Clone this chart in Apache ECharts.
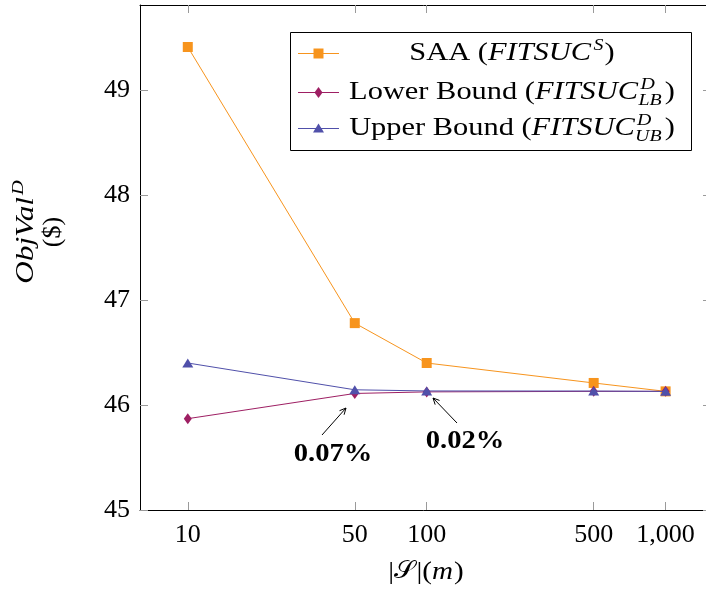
<!DOCTYPE html>
<html>
<head>
<meta charset="utf-8">
<script src="https://cdn.jsdelivr.net/npm/echarts@6/dist/echarts.min.js"></script>
<style>
  html, body { margin: 0; padding: 0; background: #ffffff; }
  #chart { width: 706px; height: 591px; }
</style>
</head>
<body>
<div id="chart"></div>
<script>
// Sample sizes |S| (m) and objective values in $
const sampleSizes = [10, 50, 100, 500, 1000];
const saaValues = [49.41, 46.78, 46.40, 46.21, 46.13];
const lowerBoundValues = [45.87, 46.11, 46.125, 46.13, 46.13];
const upperBoundValues = [46.40, 46.145, 46.134, 46.133, 46.13];

const xTicks = [10, 50, 100, 500, 1000];
const yTicks = [45, 46, 47, 48, 49];
const seriesNames = ['SAA', 'Lower Bound', 'Upper Bound'];
const gapLabels = ['0.07%', '0.02%'];

const SERIF = '"Liberation Serif", "DejaVu Serif", serif';
const COLORS = ['#F7941D', '#9E1F63', '#5050AA'];
const TICK_COLOR = '#9a9a9a';

const chart = echarts.init(document.getElementById('chart'), null, { renderer: 'canvas' });

function thousands(v) {
  return String(Math.round(v)).replace(/\B(?=(\d{3})+(?!\d))/g, ',');
}

const xMin = Math.pow(10, 0.8);
const xMax = Math.pow(10, 3.19);

function xAxisBase(pos, showLabels) {
  return {
    type: 'log',
    logBase: 10,
    position: pos,
    min: xMin,
    max: xMax,
    axisLine: { show: true, onZero: false, lineStyle: { color: '#000', width: 1 } },
    axisTick: { show: true, inside: true, length: 8, customValues: xTicks, lineStyle: { color: TICK_COLOR, width: 1 } },
    axisLabel: {
      show: showLabels, customValues: xTicks, formatter: thousands,
      fontFamily: SERIF, fontSize: 26, color: '#000', margin: 12
    },
    splitLine: { show: false },
    minorTick: { show: false }
  };
}

function yAxisBase(pos, showLabels) {
  return {
    type: 'value',
    position: pos,
    min: 45,
    max: 49.81,
    axisLine: { show: true, onZero: false, lineStyle: { color: '#000', width: 1 } },
    axisTick: { show: true, inside: true, length: 8, customValues: yTicks, lineStyle: { color: TICK_COLOR, width: 1 } },
    axisLabel: {
      show: showLabels, customValues: yTicks,
      fontFamily: SERIF, fontSize: 26, color: '#000', margin: 10
    },
    splitLine: { show: false }
  };
}

function toPairs(values) {
  return sampleSizes.map((m, i) => [m, values[i]]);
}

const symbolDefs = [
  { symbol: 'rect', size: 10 },
  { symbol: 'diamond', size: [8, 11] },
  { symbol: 'triangle', size: [11, 9] }
];
const seriesData = [saaValues, lowerBoundValues, upperBoundValues];

const series = seriesNames.map((name, k) => ({
  name: name,
  type: 'line',
  xAxisIndex: 0,
  yAxisIndex: 0,
  data: toPairs(seriesData[k]),
  symbol: symbolDefs[k].symbol,
  symbolSize: symbolDefs[k].size,
  showAllSymbol: true,
  lineStyle: { color: COLORS[k], width: 1 },
  itemStyle: { color: COLORS[k], borderWidth: 0 },
  emphasis: { disabled: true },
  animation: false,
  z: 2 + k
}));

// the plot frame runs a few pixels past the right edge of the canvas
chart.setOption({
  animation: false,
  backgroundColor: '#ffffff',
  grid: { left: 140, top: 5, width: 571, height: 505, containLabel: false, outerBoundsMode: 'none' },
  xAxis: [xAxisBase('bottom', true), xAxisBase('top', false)],
  yAxis: [yAxisBase('left', true), yAxisBase('right', false)],
  series: series
});

// ---- legend, axis titles and annotations drawn as graphic elements ----
const measureCtx = document.createElement('canvas').getContext('2d');
function fontOf(size, italic, bold, family) {
  return (italic ? 'italic ' : '') + (bold ? 'bold ' : '') + size + 'px ' + (family || SERIF);
}
function textWidth(str, size, italic, bold, family) {
  measureCtx.font = fontOf(size, italic, bold, family);
  return measureCtx.measureText(str).width;
}

function txt(x, y, str, size, opts) {
  opts = opts || {};
  const el = {
    type: 'text', x: x, y: y, z: 20,
    scaleX: opts.sx || 1,
    style: {
      text: str, fill: '#000',
      font: fontOf(size, opts.italic, opts.bold, opts.family),
      align: opts.align || 'left', verticalAlign: 'middle'
    }
  };
  if (opts.rotation) el.rotation = opts.rotation;
  return el;
}

// lay out a run of pieces horizontally, centred on cx; returns elements
function textRun(cx, cy, pieces, sx) {
  const widths = pieces.map(p => p.stack
    ? Math.max.apply(null, p.stack.map(s => textWidth(s.t, s.size, s.italic)))
    : textWidth(p.t, p.size, p.italic, p.bold, p.family));
  const total = widths.reduce((a, w, i) => a + (w + (pieces[i].gap || 0)) * sx, 0);
  let x = cx - total / 2;
  const els = [];
  pieces.forEach((p, i) => {
    if (p.stack) {
      p.stack.forEach(s => els.push(txt(x + (s.dx || 0), cy + s.dy, s.t, s.size, { italic: s.italic, sx: sx })));
    } else {
      els.push(txt(x, cy + (p.dy || 0), p.t, p.size, { italic: p.italic, bold: p.bold, family: p.family, sx: sx }));
    }
    x += (widths[i] + (p.gap || 0)) * sx;
  });
  return els;
}

const legendBox = { x: 290, y: 32, w: 401, h: 118 };
const legendRows = [
  { y: 53, pre: 'SAA (', sup: 'S', sub: '' },
  { y: 92, pre: 'Lower Bound (', sup: 'D', sub: 'LB' },
  { y: 128, pre: 'Upper Bound (', sup: 'D', sub: 'UB' }
];
const legendTextCenter = 512;
const MAIN = 26, SCRIPT = 17, STRETCH = 1.17;

const legendEls = [{
  type: 'rect', z: 15,
  shape: { x: legendBox.x + 0.5, y: legendBox.y + 0.5, width: legendBox.w, height: legendBox.h },
  style: { fill: '#fff', stroke: '#000', lineWidth: 1 }
}];

function markerShape(k, cx, cy) {
  if (k === 0) {
    return { type: 'rect', z: 17, shape: { x: cx - 5, y: cy - 5, width: 10, height: 10 }, style: { fill: COLORS[0] } };
  }
  if (k === 1) {
    return { type: 'polygon', z: 17, shape: { points: [[cx, cy - 5.5], [cx + 4, cy], [cx, cy + 5.5], [cx - 4, cy]] }, style: { fill: COLORS[1] } };
  }
  return { type: 'polygon', z: 17, shape: { points: [[cx, cy - 5], [cx + 5.5, cy + 4], [cx - 5.5, cy + 4]] }, style: { fill: COLORS[2] } };
}

legendRows.forEach((row, k) => {
  legendEls.push({
    type: 'line', z: 16,
    shape: { x1: 298, y1: row.y + 0.5, x2: 339, y2: row.y + 0.5 },
    style: { stroke: COLORS[k], lineWidth: 1 }
  });
  legendEls.push(markerShape(k, 318.5, row.y + 0.5));

  const stack = [{ t: row.sup, size: SCRIPT, italic: true, dy: -7 }];
  if (row.sub) stack.push({ t: row.sub, size: SCRIPT, italic: true, dy: 9, dx: -2 });
  legendEls.push.apply(legendEls, textRun(legendTextCenter, row.y, [
    { t: row.pre, size: MAIN },
    { t: 'FITSUC', size: MAIN, italic: true, gap: 2 },
    { stack: stack, gap: 1 },
    { t: ')', size: MAIN }
  ], STRETCH));
});

// y-axis title, rotated to read upwards
const yTitleEls = [];
(function () {
  const sx = 1.2;
  const wMain = textWidth('ObjVal', 26, true) * sx;
  const wSup = textWidth('D', 17, true) * sx;
  const total = wMain + 2 + wSup;
  const cx = 26, cy = 232;
  const start = cy + total / 2;
  yTitleEls.push(txt(cx, start, 'ObjVal', 26, { italic: true, sx: sx, rotation: Math.PI / 2 }));
  yTitleEls.push(txt(cx - 7, start - wMain - 2, 'D', 17, { italic: true, sx: sx, rotation: Math.PI / 2 }));
  yTitleEls.push(txt(53, cy, '($)', 26, { align: 'center', rotation: Math.PI / 2 }));
})();

// x-axis title |S|(m)
const xTitleEls = textRun(426, 572, [
  { t: '|', size: 26 },
  { t: '𝒮', size: 24, family: '"DejaVu Serif", "DejaVu Sans", serif', gap: 1 },
  { t: '|(', size: 26 },
  { t: 'm', size: 26, italic: true, gap: 1 },
  { t: ')', size: 26 }
], 1.12);

// gap annotations with arrows
function arrow(x1, y1, x2, y2) {
  const ang = Math.atan2(y2 - y1, x2 - x1);
  const L = 7, spread = 0.45;
  return [
    { type: 'line', z: 18, shape: { x1: x1, y1: y1, x2: x2, y2: y2 }, style: { stroke: '#000', lineWidth: 1 } },
    {
      type: 'polyline', z: 18,
      shape: { points: [
        [x2 - L * Math.cos(ang - spread), y2 - L * Math.sin(ang - spread)],
        [x2, y2],
        [x2 - L * Math.cos(ang + spread), y2 - L * Math.sin(ang + spread)]
      ] },
      style: { stroke: '#000', lineWidth: 1, fill: null }
    }
  ];
}

const annotationEls = [].concat(
  arrow(322, 435, 346, 408),
  arrow(457, 423, 433, 398),
  textRun(333, 454, [{ t: gapLabels[0], size: 26, bold: true }], 1.1),
  textRun(465, 441, [{ t: gapLabels[1], size: 26, bold: true }], 1.1)
);

chart.setOption({ graphic: { elements: legendEls.concat(yTitleEls, xTitleEls, annotationEls) } });
</script>
</body>
</html>
